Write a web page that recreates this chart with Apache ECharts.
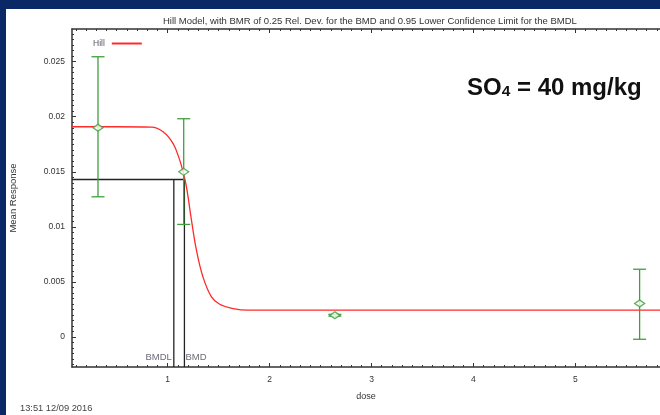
<!DOCTYPE html>
<html>
<head>
<meta charset="utf-8">
<script src="https://cdn.jsdelivr.net/npm/echarts@6/dist/echarts.min.js"></script>
<style>
  html, body { margin: 0; padding: 0; background: #fff; }
  #main { width: 660px; height: 415px; }
</style>
</head>
<body>
<div id="main"></div>
<script>
// observed group means with error bars
const obsDose = [0.316, 1.157, 2.64, 5.63];
const obsMean = [0.0190, 0.0150, 0.00197, 0.00304];
const obsLow = [0.01273, 0.01022, 0.00189, -0.00021];
const obsHigh = [0.02545, 0.01982, 0.00205, 0.00615];

// fitted Hill curve
const curveDose = [0.061, 0.5, 0.84, 0.954, 1.052, 1.118, 1.150, 1.184, 1.233, 1.282, 1.346, 1.429, 1.510, 1.641, 1.788, 2.5, 5.83];
const curveResp = [0.01909, 0.01909, 0.01905, 0.01864, 0.01758, 0.01606, 0.0150, 0.01364, 0.01061, 0.00788, 0.00545, 0.00364, 0.00297, 0.00258, 0.00243, 0.00243, 0.00243];

// BMD / BMDL
const bmdl = 1.06;
const bmd = 1.164;
const bmrLevel = 0.0143;

// axes
const xMin = 0.061, xMax = 5.83;
const yMin = -0.00273, yMax = 0.02797;
const xTicks = [1, 2, 3, 4, 5];
const yTicks = [0, 0.005, 0.01, 0.015, 0.02, 0.025];
const yTickLabels = ['0', '0.005', '0.01', '0.015', '0.02', '0.025'];

// minor tick positions (0.1 dose, 0.0005 response)
const xMinor = [];
for (let i = 1; i <= 58; i++) xMinor.push(i / 10);
const yMinor = [];
for (let i = -5; i <= 55; i++) yMinor.push(i * 0.0005);

const green = '#3f9f3f';
const red = '#ff2a2a';
const ink = '#333';
const font = 'Liberation Sans, Arial, sans-serif';

const myChart = echarts.init(document.getElementById('main'));

const hideAxis = {
  axisLine: {show: false, onZero: false},
  axisLabel: {show: false},
  splitLine: {show: false}
};

let option = {
  backgroundColor: '#fff',
  animation: false,
  textStyle: {fontFamily: font},
  title: {
    text: 'Hill Model, with BMR of 0.25 Rel. Dev. for the BMD and 0.95 Lower Confidence Limit for the BMDL',
    left: 158,
    top: 11,
    textStyle: {fontSize: 9.5, fontWeight: 'normal', color: '#333'}
  },
  legend: {
    data: [{name: 'Hill', icon: 'rect'}],
    left: 88,
    top: 34,
    align: 'right',
    itemWidth: 30,
    itemHeight: 2,
    itemGap: 4,
    textStyle: {fontSize: 8.5, color: '#556', padding: [0, 2, 0, 0]}
  },
  grid: {left: 72, top: 29, right: 0, bottom: 48},
  graphic: [
    {type: 'rect', left: 0, top: 0, shape: {width: 6, height: 415}, style: {fill: '#0b2866'}},
    {type: 'rect', left: 0, top: 0, shape: {width: 660, height: 9}, style: {fill: '#0b2866'}},
    {
      type: 'text', left: 20, top: 404,
      style: {text: '13:51 12/09 2016', fontSize: 9.3, fill: '#444', fontFamily: font}
    },
    {
      type: 'text', left: 467, top: 76,
      style: {
        text: '{a|SO}{b|4}{a| = 40 mg/kg}',
        rich: {
          a: {fontSize: 24, fontWeight: 'bold', fill: '#111', fontFamily: font},
          b: {fontSize: 15.5, fontWeight: 'bold', fill: '#111', fontFamily: font, verticalAlign: 'bottom'}
        }
      }
    }
  ],
  xAxis: [
    {
      type: 'value', min: xMin, max: xMax, position: 'bottom',
      name: 'dose', nameLocation: 'middle', nameGap: 25,
      nameTextStyle: {fontSize: 9, color: ink},
      axisLine: {onZero: false, lineStyle: {color: ink, width: 1.5}},
      axisTick: {inside: true, length: 4, customValues: xTicks, lineStyle: {color: ink}},
      axisLabel: {customValues: xTicks, fontSize: 8.5, color: ink, margin: 8},
      splitLine: {show: false}
    },
    Object.assign({
      type: 'value', min: xMin, max: xMax, position: 'bottom',
      axisTick: {inside: true, length: 2, customValues: xMinor, lineStyle: {color: ink}}
    }, hideAxis),
    {
      type: 'value', min: xMin, max: xMax, position: 'top',
      axisLine: {onZero: false, lineStyle: {color: ink, width: 1.5}},
      axisTick: {inside: true, length: 4, customValues: xTicks, lineStyle: {color: ink}},
      axisLabel: {show: false},
      splitLine: {show: false}
    },
    Object.assign({
      type: 'value', min: xMin, max: xMax, position: 'top',
      axisTick: {inside: true, length: 2, customValues: xMinor, lineStyle: {color: ink}}
    }, hideAxis)
  ],
  yAxis: [
    {
      type: 'value', min: yMin, max: yMax, position: 'left',
      name: 'Mean Response', nameLocation: 'middle', nameGap: 54,
      nameTextStyle: {fontSize: 9.5, color: ink},
      axisLine: {onZero: false, lineStyle: {color: ink, width: 1.5}},
      axisTick: {inside: true, length: 4, customValues: yTicks, lineStyle: {color: ink}},
      axisLabel: {
        customValues: yTicks, fontSize: 8.5, color: ink, margin: 7,
        formatter: function (v) {
          const k = yTicks.indexOf(v);
          return k >= 0 ? yTickLabels[k] : String(+v.toFixed(4));
        }
      },
      splitLine: {show: false}
    },
    Object.assign({
      type: 'value', min: yMin, max: yMax, position: 'left',
      axisTick: {inside: true, length: 2, customValues: yMinor, lineStyle: {color: ink}}
    }, hideAxis)
  ],
  series: [
    {
      name: 'Hill',
      type: 'line',
      data: curveDose.map((d, i) => [d, curveResp[i]]),
      smooth: 0.4,
      symbol: 'none',
      lineStyle: {color: red, width: 1.3},
      itemStyle: {color: red},
      z: 3
    },
    {
      name: 'bmdLines',
      type: 'line',
      data: [[xMin, bmrLevel], [bmd, bmrLevel], [bmd, yMin]],
      symbol: 'none',
      lineStyle: {color: '#222', width: 1.3},
      z: 2
    },
    {
      name: 'bmdlLine',
      type: 'line',
      data: [[bmdl, yMin], [bmdl, bmrLevel]],
      symbol: 'none',
      lineStyle: {color: '#222', width: 1.3},
      z: 2
    },
    {
      name: 'bmdLabels',
      type: 'scatter',
      symbolSize: 0,
      data: [
        {value: [bmdl, yMin], label: {show: true, formatter: 'BMDL', position: 'left', distance: 2, offset: [0, -10]}},
        {value: [bmd, yMin], label: {show: true, formatter: 'BMD', position: 'right', distance: 1, offset: [0, -10]}}
      ],
      label: {fontSize: 9.5, color: '#445'},
      z: 4
    },
    {
      name: 'errorBars',
      type: 'custom',
      data: obsDose.map((d, i) => [d, obsLow[i], obsHigh[i]]),
      encode: {x: 0, y: [1, 2]},
      renderItem: function (params, api) {
        const lo = api.coord([api.value(0), api.value(1)]);
        const hi = api.coord([api.value(0), api.value(2)]);
        const w = 6.5;
        const st = {stroke: green, lineWidth: 1.3};
        return {
          type: 'group',
          children: [
            {type: 'line', shape: {x1: lo[0], y1: lo[1], x2: hi[0], y2: hi[1]}, style: st},
            {type: 'line', shape: {x1: lo[0] - w, y1: lo[1], x2: lo[0] + w, y2: lo[1]}, style: st},
            {type: 'line', shape: {x1: hi[0] - w, y1: hi[1], x2: hi[0] + w, y2: hi[1]}, style: st}
          ]
        };
      },
      z: 4
    },
    {
      name: 'means',
      type: 'scatter',
      data: obsDose.map((d, i) => [d, obsMean[i]]),
      symbol: 'diamond',
      symbolSize: [10, 7],
      itemStyle: {color: '#fff', borderColor: green, borderWidth: 1.4},
      z: 5
    }
  ]
};

option && myChart.setOption(option);
</script>
</body>
</html>
